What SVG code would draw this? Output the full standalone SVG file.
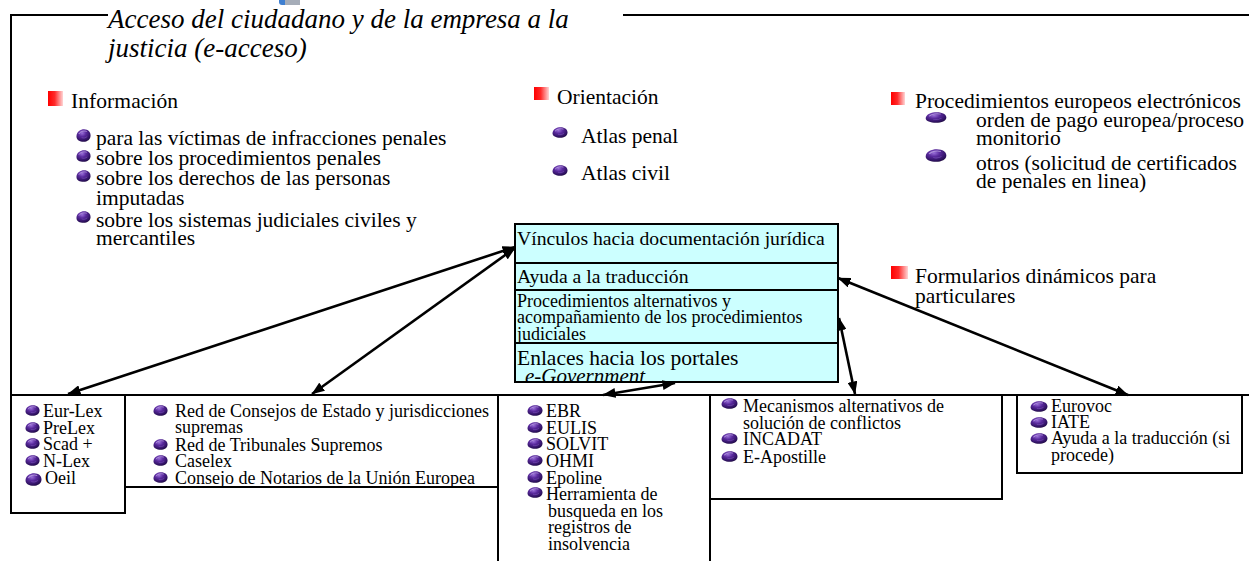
<svg xmlns="http://www.w3.org/2000/svg" xmlns:xlink="http://www.w3.org/1999/xlink" width="1249" height="561" viewBox="0 0 1249 561">
<style>
.t{font-family:"Liberation Serif","Times New Roman",serif;fill:#000}
.ti{font-family:"Liberation Serif","Times New Roman",serif;font-style:italic;fill:#000}
.f27{font-size:27px}
.f215{font-size:21.5px}
.f20{font-size:19.7px}
.f18{font-size:18px}
.ln{fill:none;stroke:#000;stroke-width:2}
.bx{fill:#fff;stroke:#000;stroke-width:2}
.cy{fill:#ccffff;stroke:#000;stroke-width:2}
.ar{fill:none;stroke:#000;stroke-width:2.6;marker-start:url(#ah);marker-end:url(#ah)}
.sq{fill:url(#red)}
</style>
<defs>
<linearGradient id="red" x1="0" y1="0" x2="1" y2="0">
<stop offset="0" stop-color="#ff0000"/>
<stop offset="0.45" stop-color="#ff2a2a"/>
<stop offset="1" stop-color="#ffd6d6"/>
</linearGradient>
<radialGradient id="pur" cx="0.4" cy="0.3" r="0.8">
<stop offset="0" stop-color="#9a70d8"/>
<stop offset="0.35" stop-color="#5a2a9e"/>
<stop offset="0.8" stop-color="#2a0f5a"/>
<stop offset="1" stop-color="#140528"/>
</radialGradient>
<symbol id="b" viewBox="-8 -6.5 16 13" preserveAspectRatio="none" overflow="visible">
<path d="M-7.5,1 C-7.5,-4 -3,-6.3 0.5,-6.3 C5,-6.3 7.5,-3.5 7.5,0 C7.5,4 4,6.3 0,6.3 C-4,6.3 -7.5,4.5 -7.5,1 Z" fill="url(#pur)"/>
<path d="M-5,-1.5 C-3,-4.5 1,-5 3.5,-4" fill="none" stroke="#c8b0ea" stroke-width="1" opacity="0.7"/>
<path d="M-2,2 C0,3 2,2.5 4,1" fill="none" stroke="#8a60c8" stroke-width="0.8" opacity="0.6"/>
</symbol>
<marker id="ah" viewBox="0 0 13 10" refX="12.5" refY="5" markerWidth="13" markerHeight="10" markerUnits="userSpaceOnUse" orient="auto-start-reverse">
<path d="M0,0 L13,5 L0,10 Z" fill="#000"/>
</marker>
</defs>
<rect width="1249" height="561" fill="#fff"/>

<g id="frame">
<path class="ln" d="M11,395 V15 H108"/>
<path class="ln" d="M623,15 H1249"/>
<path class="ln" d="M11,395 H1249"/>
<path d="M279,0 H285 V5 H282 Q279,5 279,2 Z" fill="#3f7fd0"/>
<rect x="285" y="0" width="15" height="5" fill="#a6adb8"/>
</g>

<g id="title">
<text class="ti f27" x="108" y="28">Acceso del ciudadano y de la empresa a la</text>
<text class="ti f27" x="108" y="57">justicia (e-acceso)</text>
</g>

<g id="informacion">
<rect class="sq" x="48" y="91" width="15" height="15"/>
<text class="t f215" x="71" y="108" textLength="107" lengthAdjust="spacing">Información</text>
<use href="#b" x="76" y="129" width="15" height="13"/>
<text class="t f215" x="96" y="145">para las víctimas de infracciones penales</text>
<use href="#b" x="76" y="150" width="15" height="12"/>
<text class="t f215" x="96" y="165">sobre los procedimientos penales</text>
<use href="#b" x="76" y="170" width="15" height="12"/>
<text class="t f215" x="96" y="185">sobre los derechos de las personas</text>
<text class="t f215" x="96" y="205">imputadas</text>
<use href="#b" x="76" y="211" width="15" height="12"/>
<text class="t f215" x="96" y="227">sobre los sistemas judiciales civiles y</text>
<text class="t f215" x="96" y="245">mercantiles</text>
</g>

<g id="orientacion">
<rect class="sq" x="534" y="87" width="15" height="13"/>
<text class="t f215" x="557" y="104">Orientación</text>
<use href="#b" x="552" y="127" width="16" height="11"/>
<text class="t f215" x="581" y="143">Atlas penal</text>
<use href="#b" x="552" y="165" width="16" height="11"/>
<text class="t f215" x="581" y="180">Atlas civil</text>
</g>

<g id="procedimientos">
<rect class="sq" x="891" y="92" width="14" height="13"/>
<text class="t f215" x="915" y="108">Procedimientos europeos electrónicos</text>
<use href="#b" x="925" y="112" width="22" height="11"/>
<text class="t f215" x="976" y="127">orden de pago europea/proceso</text>
<text class="t f215" x="976" y="145">monitorio</text>
<use href="#b" x="925" y="149" width="22" height="13"/>
<text class="t f215" x="976" y="170">otros (solicitud de certificados</text>
<text class="t f215" x="976" y="188">de penales en linea)</text>
</g>

<g id="formularios">
<rect class="sq" x="891" y="266" width="17" height="13"/>
<text class="t f215" x="915" y="283">Formularios dinámicos para</text>
<text class="t f215" x="915" y="303">particulares</text>
</g>

<g id="central">
<rect class="cy" x="515" y="224" width="323" height="158"/>
<path class="ln" d="M515,263 H838 M515,290 H838 M515,343 H838"/>
<text class="t f20" x="517" y="245">Vínculos hacia documentación jurídica</text>
<text class="t f20" x="517" y="283">Ayuda a la traducción</text>
<text class="t f18" x="517" y="307">Procedimientos alternativos y</text>
<text class="t f18" x="517" y="323">acompañamiento de los procedimientos</text>
<text class="t f18" x="517" y="340">judiciales</text>
<text class="t f215" x="517" y="365">Enlaces hacia los portales</text>
<text class="ti" style="font-size:21px" x="525" y="383">e-Government</text>
</g>

<g id="box-eurlex">
<rect class="bx" x="11" y="395" width="114" height="118"/>
<use href="#b" x="25" y="405" width="15" height="11"/>
<text class="t f18" x="43" y="417">Eur-Lex</text>
<use href="#b" x="25" y="422" width="15" height="11"/>
<text class="t f18" x="43" y="434">PreLex</text>
<use href="#b" x="25" y="438" width="15" height="11"/>
<text class="t f18" x="43" y="450">Scad +</text>
<use href="#b" x="25" y="455" width="15" height="11"/>
<text class="t f18" x="43" y="467">N-Lex</text>
<use href="#b" x="25" y="473" width="17" height="13"/>
<text class="t f18" x="45" y="484">Oeil</text>
</g>

<g id="box-consejos">
<rect class="bx" x="125" y="395" width="373" height="92"/>
<use href="#b" x="153" y="405" width="15" height="11"/>
<text class="t f18" x="175" y="417">Red de Consejos de Estado y jurisdicciones</text>
<text class="t f18" x="175" y="433">supremas</text>
<use href="#b" x="153" y="439" width="15" height="11"/>
<text class="t f18" x="175" y="451">Red de Tribunales Supremos</text>
<use href="#b" x="153" y="455" width="15" height="11"/>
<text class="t f18" x="175" y="467">Caselex</text>
<use href="#b" x="153" y="472" width="15" height="11"/>
<text class="t f18" x="175" y="484">Consejo de Notarios de la Unión Europea</text>
</g>

<g id="box-ebr">
<rect class="bx" x="498" y="395" width="212" height="180"/>
<use href="#b" x="527" y="405" width="16" height="11"/>
<text class="t f18" x="546" y="417">EBR</text>
<use href="#b" x="527" y="422" width="16" height="11"/>
<text class="t f18" x="546" y="434">EULIS</text>
<use href="#b" x="527" y="438" width="16" height="11"/>
<text class="t f18" x="546" y="450">SOLVIT</text>
<use href="#b" x="527" y="455" width="16" height="11"/>
<text class="t f18" x="546" y="467">OHMI</text>
<use href="#b" x="527" y="471" width="16" height="12"/>
<text class="t f18" x="546" y="484">Epoline</text>
<use href="#b" x="527" y="487" width="16" height="11"/>
<text class="t f18" x="546" y="500">Herramienta de</text>
<text class="t f18" x="548" y="517">busqueda en los</text>
<text class="t f18" x="548" y="533">registros de</text>
<text class="t f18" x="548" y="550">insolvencia</text>
</g>

<g id="box-mecanismos">
<rect class="bx" x="710" y="395" width="292" height="104"/>
<use href="#b" x="721" y="398" width="17" height="11"/>
<text class="t f18" x="743" y="412">Mecanismos alternativos de</text>
<text class="t f18" x="743" y="429">solución de conflictos</text>
<use href="#b" x="721" y="433" width="17" height="11"/>
<text class="t f18" x="743" y="445">INCADAT</text>
<use href="#b" x="721" y="451" width="17" height="11"/>
<text class="t f18" x="743" y="463">E-Apostille</text>
</g>

<g id="box-eurovoc">
<rect class="bx" x="1017" y="395" width="225" height="78"/>
<use href="#b" x="1030" y="401" width="18" height="11"/>
<text class="t f18" x="1051" y="412">Eurovoc</text>
<use href="#b" x="1030" y="417" width="18" height="11"/>
<text class="t f18" x="1051" y="428">IATE</text>
<use href="#b" x="1030" y="433" width="18" height="11"/>
<text class="t f18" x="1051" y="444">Ayuda a la traducción (si</text>
<text class="t f18" x="1051" y="461">procede)</text>
</g>

<g id="connectors">
<line class="ar" x1="515" y1="247" x2="68" y2="394"/>
<line class="ar" x1="515" y1="248" x2="312" y2="394"/>
<line class="ar" x1="675" y1="383" x2="603" y2="395"/>
<line class="ar" x1="839" y1="318" x2="855" y2="394"/>
<line class="ar" x1="838" y1="278" x2="1128" y2="395"/>
</g>
</svg>
